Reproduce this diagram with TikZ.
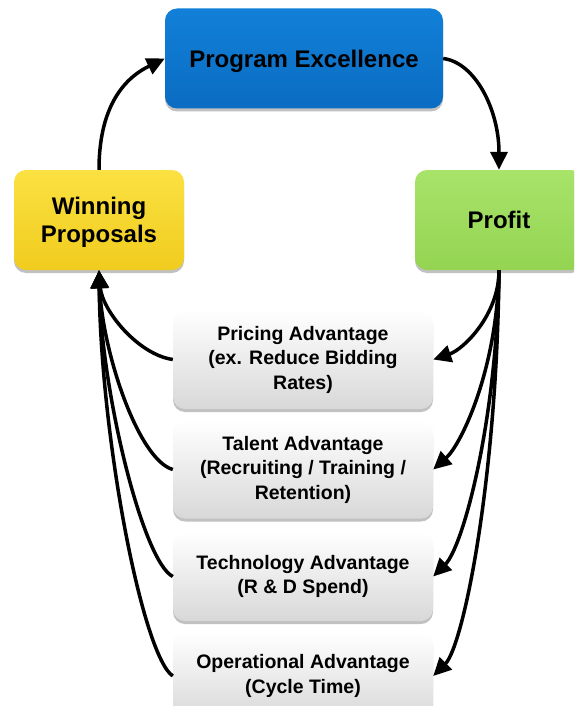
\documentclass[tikz,border=0pt]{standalone}
\usepackage{fontspec}
\setmainfont{Liberation Sans}
\usetikzlibrary{shadows,calc,arrows.meta}
\definecolor{bluetop}{HTML}{1280D8}
\definecolor{bluebot}{HTML}{0A6CC2}
\definecolor{yeltop}{HTML}{FBE142}
\definecolor{yelbot}{HTML}{F0CC1E}
\definecolor{grntop}{HTML}{A8E36A}
\definecolor{grnbot}{HTML}{94D452}
\definecolor{graybot}{HTML}{D8D8D8}
\begin{document}
\begin{tikzpicture}[x=1pt,y=-1pt,
  box/.style={rounded corners=12pt, align=center, inner sep=0pt,
    drop shadow={shadow xshift=0pt,shadow yshift=-3pt,opacity=0.4,fill=black!60}},
  big/.style={box, minimum height=100pt, font=\bfseries\fontsize{24}{28}\selectfont},
  small/.style={box, minimum width=260pt, top color=white, bottom color=graybot,
    font=\bfseries\fontsize{19.5}{24.5}\selectfont},
  conn/.style={line width=3.5pt, -{Triangle[length=18pt,width=17pt]}},
]
\clip (0,0) rectangle (574,706);
\fill[white] (0,0) rectangle (574,706);

\node[big, minimum width=278pt, top color=bluetop, bottom color=bluebot] (pe) at (304,58.5) {\raisebox{-3pt}[\height][\depth]{Program Excellence}};
\node[big, minimum width=170pt, top color=yeltop, bottom color=yelbot] (wp) at (99,220) {\raisebox{-2pt}[\height][\depth]{Winning}\\\raisebox{-2pt}[\height][\depth]{Proposals}};
\node[big, minimum width=168pt, top color=grntop, bottom color=grnbot] (pr) at (499,220) {Profit};

\node[small, minimum height=99pt] (p1) at (303,359.5) {Pricing Advantage\\(ex. Reduce Bidding\\Rates)};
\node[small, minimum height=98pt] (p2) at (303,469.5) {Talent Advantage\\(Recruiting / Training /\\Retention)};
\node[small, minimum height=89pt] (p3) at (303,576.5) {Technology Advantage\\(R \& D Spend)};
\node[small, minimum height=88pt] (p4) at (303,676) {Operational Advantage\\(Cycle Time)};

% cycle arrows
\draw[conn] (wp.north) .. controls ($(wp.north)+(0,-70)$) and ($(pe.west)+(-35,17)$) .. (pe.west);
\draw[conn] (pe.east) .. controls ($(pe.east)+(32,4)$) and ($(pr.north)+(0,-60)$) .. (pr.north);

% profit to advantages
\draw[conn] (pr.south) .. controls ($(pr.south)+(0,45)$) and ($(p1.east)+(30,-10)$) .. (p1.east);
\draw[conn] (pr.south) .. controls ($(pr.south)+(-2,100)$) and ($(p2.east)+(28,-25)$) .. (p2.east);
\draw[conn] (pr.south) .. controls ($(pr.south)+(-2,150)$) and ($(p3.east)+(30,-30)$) .. (p3.east);
\draw[conn] (pr.south) .. controls ($(pr.south)+(-2,210)$) and ($(p4.east)+(30,-30)$) .. (p4.east);

% advantages to winning proposals
\draw[conn] (p1.west) .. controls ($(p1.west)+(-35,-5)$) and ($(wp.south)+(3,40)$) .. (wp.south);
\draw[conn] (p2.west) .. controls ($(p2.west)+(-35,-10)$) and ($(wp.south)+(3,80)$) .. (wp.south);
\draw[conn] (p3.west) .. controls ($(p3.west)+(-30,-15)$) and ($(wp.south)+(2,120)$) .. (wp.south);
\draw[conn] (p4.west) .. controls ($(p4.west)+(-30,-20)$) and ($(wp.south)+(2,170)$) .. (wp.south);
\end{tikzpicture}
\end{document}
